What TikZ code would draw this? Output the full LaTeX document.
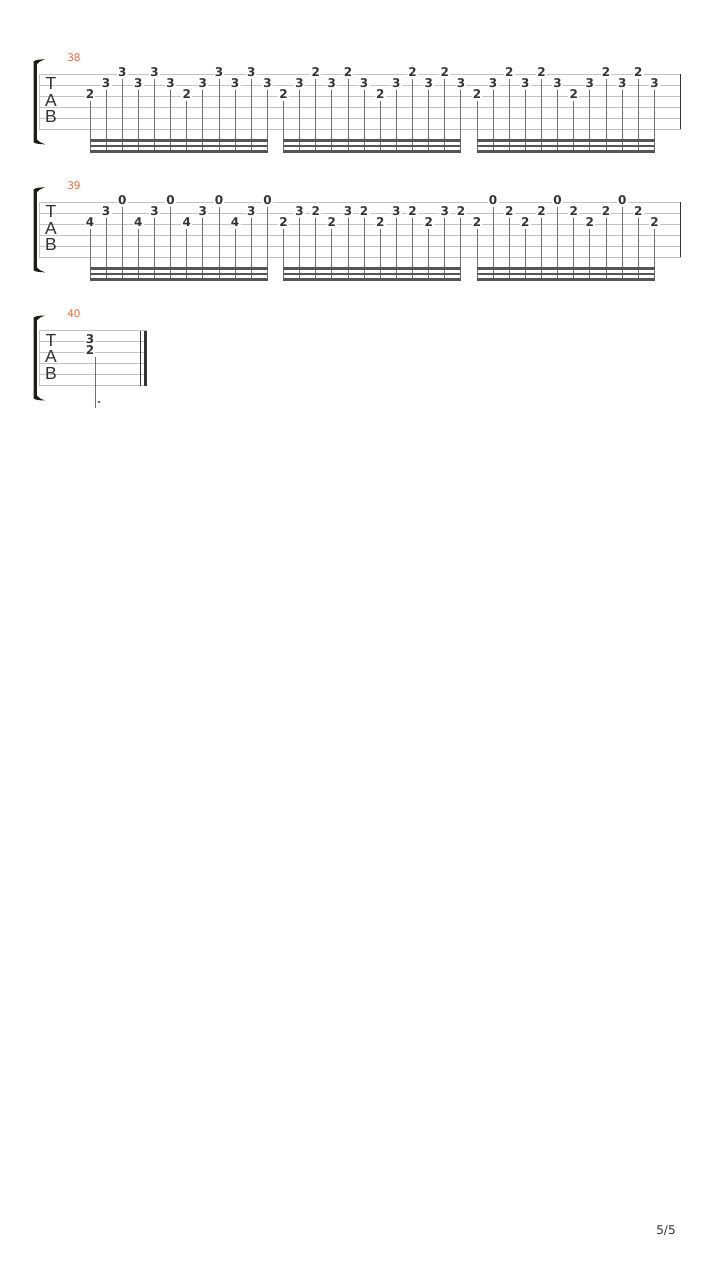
\documentclass[tikz,border=0pt]{standalone}
\usepackage{fontspec}
\newfontfamily\fretfont{DejaVu Sans}
\newfontfamily\tabfont{Liberation Sans}
\definecolor{staffc}{HTML}{C3C3C3}
\definecolor{stemc}{HTML}{707070}
\definecolor{beamc}{HTML}{555555}
\definecolor{inkc}{HTML}{333333}
\definecolor{measc}{HTML}{F2683C}
\definecolor{brc}{HTML}{1E1E14}
\tikzset{
 staffline/.style={draw=staffc, line width=0.9pt},
 fretnum/.style={font=\fretfont\bfseries\fontsize{12}{14}\selectfont, text=inkc, fill=white, inner xsep=1.2pt, inner ysep=0.5pt},
 stemline/.style={draw=stemc, line width=1pt},
 beamline/.style={draw=beamc, line width=2.5pt},
 tabletter/.style={font=\tabfont\fontsize{17.5}{17.5}\selectfont, text=inkc, inner sep=0pt},
 measnum/.style={font=\fretfont\fontsize{10.5}{12}\selectfont, text=measc, inner sep=0pt},
 pagenum/.style={font=\fretfont\fontsize{12}{14}\selectfont, text=inkc, inner sep=0pt},
 barline/.style={draw=inkc, line width=1.2pt},
 brkt/.style={fill=brc},
}
% #1 name, #2 top y, #3 right x
\newcommand\tabstaff[3]{%
  \foreach \k in {0,...,5}{\draw[staffline] (39,#2+11*\k) -- (#3,#2+11*\k);}
  \draw[staffline] (39,#2) -- (39,#2+55);
  \node[tabletter] (#1-T) at (51,#2+9.5) {T};
  \node[tabletter] (#1-A) at (51,#2+26) {A};
  \node[tabletter] (#1-B) at (51,#2+42.5) {B};
  \fill[brkt] (33.5,#2-13) .. controls (36,#2-14.5) and (40,#2-15) .. (45,#2-15)
     .. controls (41,#2-13.5) and (38,#2-12) .. (36.8,#2-10)
     -- (36.8,#2+65) .. controls (38,#2+67) and (41,#2+68.5) .. (45,#2+70)
     .. controls (40,#2+70) and (36,#2+69.5) .. (33.5,#2+68) -- cycle;
}
% #1 name prefix, #2 top y, #3 start x, #4 list string/fret
\newcommand\notegroup[4]{%
  \foreach \st/\fr [count=\i from 0] in {#4}{%
    \pgfmathsetmacro\nx{#3+16.13*\i}%
    \pgfmathsetmacro\ny{#2+11*(\st-1)-2.3}%
    \node[fretnum] (#1-\i) at (\nx,\ny) {\fr};
    \coordinate (#1-\i-end) at (\nx,#2+78.5);
    \draw[stemline] ([yshift=-1.5pt]#1-\i.south) -- (#1-\i-end);
  }
  \draw[beamline] ([yshift=12.5pt,xshift=-0.5pt]#1-0-end) -- ([yshift=12.5pt,xshift=0.5pt]#1-11-end);
  \draw[beamline] ([yshift=6.8pt,xshift=-0.5pt]#1-0-end) -- ([yshift=6.8pt,xshift=0.5pt]#1-11-end);
  \draw[beamline] ([yshift=1.2pt,xshift=-0.5pt]#1-0-end) -- ([yshift=1.2pt,xshift=0.5pt]#1-11-end);
}
\begin{document}
\begin{tikzpicture}[x=1pt,y=-1pt]
\fill[white] (0,0) rectangle (720,1280);
\useasboundingbox (0,0) rectangle (720,1280);

% ---------- system 1 (measure 38)
\tabstaff{s1}{74.3}{680.5}
\node[measnum] (m38) at (74,58) {38};
\notegroup{a1}{74.3}{90}{3/2,2/3,1/3,2/3,1/3,2/3,3/2,2/3,1/3,2/3,1/3,2/3}
\notegroup{a2}{74.3}{283.5}{3/2,2/3,1/2,2/3,1/2,2/3,3/2,2/3,1/2,2/3,1/2,2/3}
\notegroup{a3}{74.3}{477}{3/2,2/3,1/2,2/3,1/2,2/3,3/2,2/3,1/2,2/3,1/2,2/3}
\coordinate (s1-bt) at (680.5,74.3);
\coordinate (s1-bb) at (680.5,129.3);
\draw[barline] (s1-bt) -- (s1-bb);

% ---------- system 2 (measure 39)
\tabstaff{s2}{202.3}{680.5}
\node[measnum] (m39) at (74,186) {39};
\notegroup{b1}{202.3}{90}{3/4,2/3,1/0,3/4,2/3,1/0,3/4,2/3,1/0,3/4,2/3,1/0}
\notegroup{b2}{202.3}{283.5}{3/2,2/3,2/2,3/2,2/3,2/2,3/2,2/3,2/2,3/2,2/3,2/2}
\notegroup{b3}{202.3}{477}{3/2,1/0,2/2,3/2,2/2,1/0,2/2,3/2,2/2,1/0,2/2,3/2}
\coordinate (s2-bt) at (680.5,202.3);
\coordinate (s2-bb) at (680.5,257.3);
\draw[barline] (s2-bt) -- (s2-bb);

% ---------- system 3 (measure 40)
\tabstaff{s3}{330.5}{147.3}
\node[measnum] (m40) at (74,314) {40};
\node[fretnum] (c1) at (90,339.5) {3};
\node[fretnum] (c2) at (90,350) {2};
\coordinate (c-st) at (95,357);
\coordinate (c-se) at (95,408);
\draw[stemline] (c-st) -- (c-se);
\node[circle, fill=inkc, inner sep=0pt, minimum size=2.4pt] (c-dot) at (99,402) {};
\coordinate (s3-tt) at (140.5,330.5);
\coordinate (s3-tb) at (140.5,385.5);
\draw[barline, line width=1pt] (s3-tt) -- (s3-tb);
\coordinate (s3-kt) at (145.6,330.5);
\coordinate (s3-kb) at (145.6,385.5);
\draw[draw=inkc, line width=3.5pt] (s3-kt) -- (s3-kb);

% ---------- page number
\node[pagenum] (pg) at (666,1230.5) {5/5};
\end{tikzpicture}
\end{document}
